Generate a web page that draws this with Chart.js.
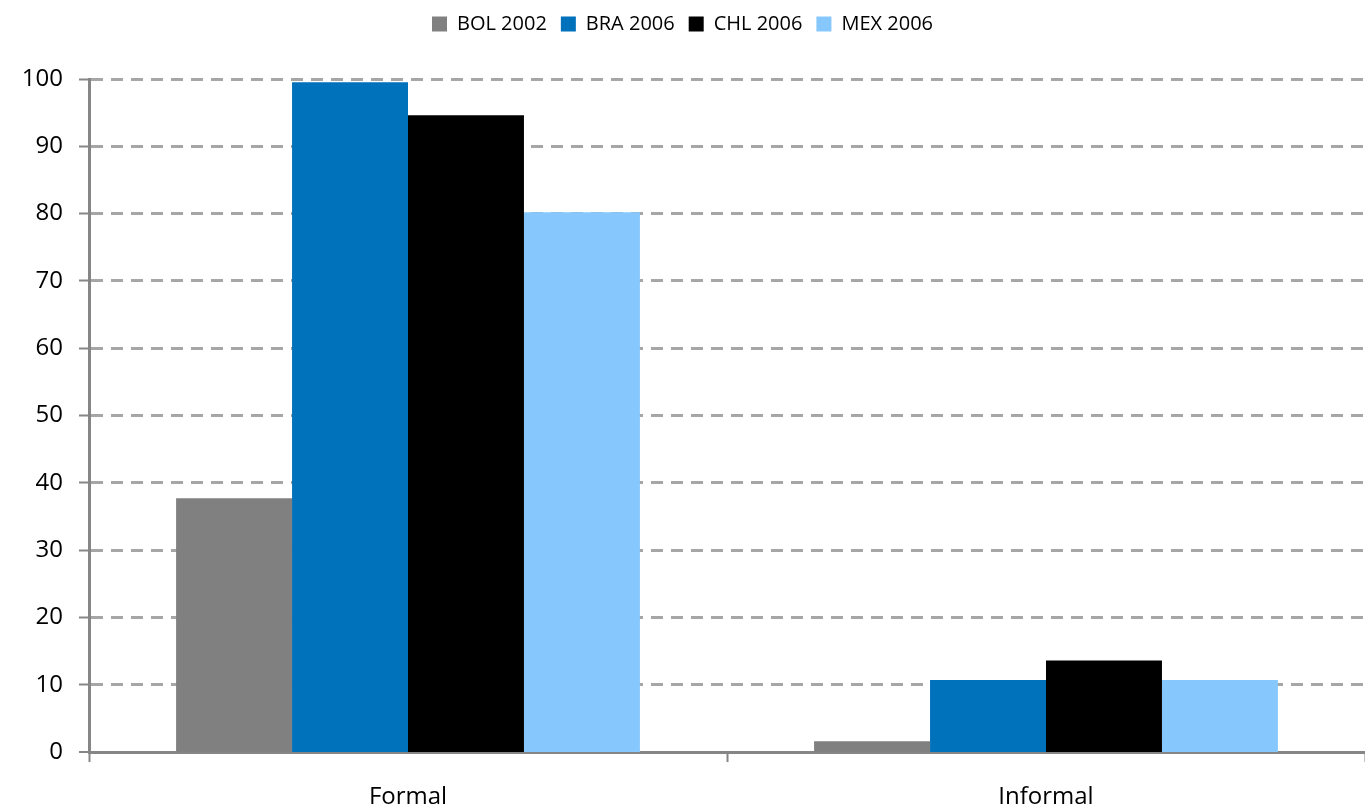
<!DOCTYPE html>
<html>
<head>
<meta charset="utf-8">
<script src="https://cdn.jsdelivr.net/npm/chart.js@4"></script>
<style>
  html, body { margin: 0; padding: 0; background: #fff; }
  #wrap { width: 1365px; height: 808px; }
</style>
</head>
<body>
<div id="wrap"><canvas id="chart"></canvas></div>
<script>
// categories and series
const categories = ['Formal', 'Informal'];
const seriesNames = ['BOL 2002', 'BRA 2006', 'CHL 2006', 'MEX 2006'];
const bol2002 = [37.7, 1.6];
const bra2006 = [99.5, 10.7];
const chl2006 = [94.6, 13.6];
const mex2006 = [80.2, 10.7];
const yTicks = [0, 10, 20, 30, 40, 50, 60, 70, 80, 90, 100];

const colors = ['#808080', '#0071BB', '#000000', '#86C8FD'];
const values = [bol2002, bra2006, chl2006, mex2006];

const font = "'Open Sans', 'Liberation Sans', sans-serif";

// push the plot area down below the legend without moving the legend itself
const legendGap = {
  id: 'legendGap',
  afterInit(chart) {
    const legend = chart.legend;
    const fit = legend.fit;
    legend.fit = function () {
      fit.call(this);
      this.height += 35;
    };
  },
};

const chart = new Chart(document.getElementById('chart'), {
  type: 'bar',
  data: {
    labels: categories,
    datasets: seriesNames.map((name, i) => ({
      label: name,
      data: values[i],
      backgroundColor: colors[i],
      borderWidth: 0,
      categoryPercentage: 0.727,
      barPercentage: 1.0,
    })),
  },
  plugins: [legendGap],
  options: {
    responsive: true,
    maintainAspectRatio: false,
    animation: false,
    layout: { padding: { top: 0, right: 0, left: 0, bottom: 0 } },
    plugins: {
      tooltip: { enabled: false },
      legend: {
        position: 'top',
        labels: {
          color: '#000',
          font: { family: font, size: 20 },
          boxWidth: 15,
          boxHeight: 15,
          padding: 14,
        },
      },
    },
    scales: {
      x: {
        offset: true,
        grid: {
          offset: true,
          drawOnChartArea: false,
          drawTicks: true,
          tickLength: 10,
          tickColor: '#868686',
          tickWidth: 2,
        },
        border: { color: '#868686', width: 3 },
        ticks: {
          color: '#000',
          font: { family: font, size: 24 },
          padding: 21,
        },
        afterFit: (scale) => { scale.height = 56; },
      },
      y: {
        min: 0,
        max: 100,
        afterBuildTicks: (scale) => { scale.ticks = yTicks.map(v => ({ value: v })); },
        grid: {
          color: '#A6A6A6',
          lineWidth: (ctx) => (ctx.tick && ctx.tick.value === 0 ? 0 : 3),
          tickBorderDash: [],
          tickLength: 10,
          tickColor: '#868686',
          tickWidth: 2,
        },
        border: { color: '#868686', width: 3, dash: [12, 8] },
        ticks: {
          color: '#000',
          font: { family: font, size: 24 },
          padding: 16,
        },
        afterFit: (scale) => { scale.width = 89; },
      },
    },
  },
});
</script>
</body>
</html>
